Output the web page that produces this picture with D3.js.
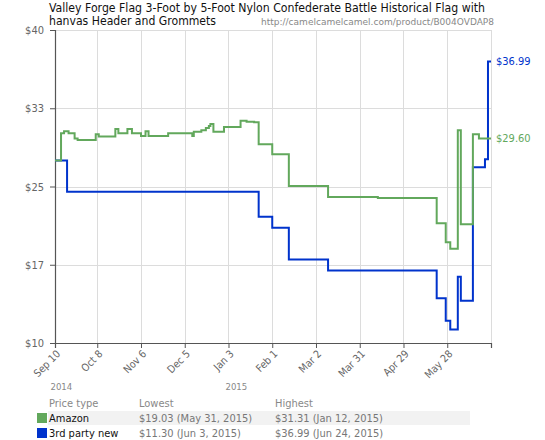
<!DOCTYPE html>
<html>
<head>
<meta charset="utf-8">
<script src="https://cdn.jsdelivr.net/npm/d3@7"></script>
<style>
  html, body { margin: 0; padding: 0; background: #fff; }
  svg { display: block; }
  text { font-family: 'DejaVu Sans Condensed', 'DejaVu Sans', sans-serif; }
</style>
</head>
<body>
<svg id="chart" width="545" height="440"></svg>
<script>
// ---------- data ----------
const titleLines = ["Valley Forge Flag 3-Foot by 5-Foot Nylon Confederate Battle Historical Flag with", "hanvas Header and Grommets"];
const sourceUrl = "http://camelcamelcamel.com/product/B004OVDAP8";

const amazonDates = ["2014-09-10","2014-09-14","2014-09-16","2014-09-19","2014-09-23","2014-09-25","2014-10-07","2014-10-09","2014-10-20","2014-10-22","2014-10-28","2014-10-31","2014-11-06","2014-11-09","2014-11-11","2014-11-24","2014-12-10","2014-12-11","2014-12-16","2014-12-19","2014-12-21","2014-12-22","2014-12-24","2014-12-31","2015-01-11","2015-01-15","2015-01-20","2015-01-23","2015-02-01","2015-02-12","2015-03-10","2015-04-12","2015-05-21","2015-05-27","2015-05-30","2015-06-04","2015-06-06","2015-06-14","2015-06-18","2015-06-26"];
const amazonPrices = [27.5,30.1,30.3,30.1,29.6,29.45,30.0,29.8,30.5,30.1,30.5,30.1,29.85,30.3,29.85,30.1,29.85,30.25,30.4,30.6,30.8,31.0,30.25,30.7,31.31,31.2,31.15,29.05,28.1,25.05,24.0,23.9,21.47,19.65,19.03,30.4,21.38,30.0,29.6,29.6];

const thirdDates = ["2014-09-10","2014-09-18","2015-01-23","2015-02-01","2015-02-12","2015-03-10","2015-05-21","2015-05-27","2015-05-30","2015-06-04","2015-06-06","2015-06-14","2015-06-22","2015-06-24","2015-06-26"];
const thirdPrices = [27.5,24.5,22.1,21.05,18.0,16.95,14.28,12.14,11.3,16.36,14.05,26.84,27.6,36.99,36.99];

const yTickValues = [10, 17.5, 25, 32.5, 40];
const yTickLabels = ["$10", "$17", "$25", "$33", "$40"];
const xTickDates = ["2014-09-10","2014-10-08","2014-11-06","2014-12-05","2015-01-03","2015-02-01","2015-03-02","2015-03-31","2015-04-29","2015-05-28"];
const xTickLabels = ["Sep 10","Oct 8","Nov 6","Dec 5","Jan 3","Feb 1","Mar 2","Mar 31","Apr 29","May 28"];
const yearLabels = ["2014", "2015"];
const yearDates = ["2014-09-07", "2015-01-01"];

const seriesNames = ["Amazon", "3rd party new"];
const seriesColors = ["#62a85c", "#0033cc"];
const lowestText = ["$19.03 (May 31, 2015)", "$11.30 (Jun 3, 2015)"];
const highestText = ["$31.31 (Jan 12, 2015)", "$36.99 (Jun 24, 2015)"];
const lastLabels = ["$29.60", "$36.99"];
const lastValues = [29.6, 36.99];
const domainDates = ["2014-09-10", "2015-06-26"];

// ---------- drawing ----------
const parse = d3.utcParse("%Y-%m-%d");
const svg = d3.select("#chart");
const L = 55, R = 491, T = 30, B = 343;

const x = d3.scaleUtc().domain(domainDates.map(parse)).range([L, R]);
const y = d3.scaleLinear().domain([10, 40]).range([B, T]);

// title
svg.append("text").attr("x", 49).attr("y", 11.5).attr("font-size", 11.5).attr("fill", "#111")
  .attr("textLength", 436).attr("lengthAdjust", "spacingAndGlyphs").text(titleLines[0]);
svg.append("text").attr("x", 49).attr("y", 24.5).attr("font-size", 11.5).attr("fill", "#111")
  .attr("textLength", 167).attr("lengthAdjust", "spacingAndGlyphs").text(titleLines[1]);
svg.append("text").attr("x", 261).attr("y", 24.5).attr("font-size", 9).attr("fill", "#888")
  .attr("textLength", 233).attr("lengthAdjust", "spacingAndGlyphs").text(sourceUrl);

// grid
const grid = svg.append("g").attr("stroke", "#dcdcdc").attr("stroke-width", 1);
yTickValues.slice(1).forEach(v => {
  grid.append("line").attr("x1", L).attr("x2", R).attr("y1", Math.round(y(v)) + 0.5).attr("y2", Math.round(y(v)) + 0.5);
});
xTickDates.slice(1).forEach(d => {
  const xx = Math.round(x(parse(d))) + 0.5;
  grid.append("line").attr("x1", xx).attr("x2", xx).attr("y1", T).attr("y2", B);
});
grid.append("line").attr("x1", R + 0.5).attr("x2", R + 0.5).attr("y1", T).attr("y2", B);

// y axis
const yAxis = d3.axisLeft(y).tickValues(yTickValues).tickSize(5).tickPadding(6)
  .tickFormat((d, i) => yTickLabels[i]);
const gy = svg.append("g").attr("transform", `translate(${L},0)`).call(yAxis);
gy.select(".domain").attr("stroke", "#555").attr("stroke-width", 1.2);
gy.selectAll(".tick line").attr("stroke", "#555");
gy.selectAll(".tick text").attr("font-size", 11).attr("fill", "#666")
  .attr("font-family", "'DejaVu Sans Condensed', 'DejaVu Sans', sans-serif");

// x axis
const xAxis = d3.axisBottom(x).tickValues(xTickDates.map(parse)).tickSize(5)
  .tickFormat((d, i) => xTickLabels[i]);
const gx = svg.append("g").attr("transform", `translate(0,${B})`).call(xAxis);
gx.select(".domain").attr("stroke", "#555").attr("stroke-width", 1.2);
gx.selectAll(".tick line").attr("stroke", "#555");
gx.selectAll(".tick text")
  .attr("font-size", 10.5).attr("fill", "#666")
  .attr("font-family", "'DejaVu Sans Condensed', 'DejaVu Sans', sans-serif")
  .attr("text-anchor", "end")
  .attr("y", 0).attr("dy", "0.35em")
  .attr("transform", "translate(3,9) rotate(-45)");

// year labels
yearLabels.forEach((t, i) => {
  svg.append("text").attr("x", x(parse(yearDates[i]))).attr("y", 390)
    .attr("font-size", 9.5).attr("fill", "#888").text(t);
});

// lines
const line = d3.line().curve(d3.curveStepAfter).x(d => x(d.date)).y(d => y(d.v));
const amazon = amazonDates.map((d, i) => ({ date: parse(d), v: amazonPrices[i] }));
const third = thirdDates.map((d, i) => ({ date: parse(d), v: thirdPrices[i] }));
svg.append("path").datum(third).attr("d", line).attr("fill", "none")
  .attr("stroke", seriesColors[1]).attr("stroke-width", 2);
svg.append("path").datum(amazon).attr("d", line).attr("fill", "none")
  .attr("stroke", seriesColors[0]).attr("stroke-width", 2);

// last-value labels
[1, 0].forEach(i => {
  svg.append("text").attr("x", 496).attr("y", y(lastValues[i])).attr("dy", "0.35em")
    .attr("font-size", 11).attr("fill", seriesColors[i]).text(lastLabels[i]);
});

// legend table
svg.append("rect").attr("x", 48).attr("y", 411).attr("width", 422).attr("height", 14).attr("fill", "#f2f2f2");
const hdr = svg.append("g").attr("font-size", 11).attr("fill", "#888");
hdr.append("text").attr("x", 49).attr("y", 407).text("Price type");
hdr.append("text").attr("x", 139).attr("y", 407).text("Lowest");
hdr.append("text").attr("x", 275).attr("y", 407).text("Highest");
seriesNames.forEach((name, i) => {
  const yy = 422 + i * 15;
  svg.append("rect").attr("x", 37).attr("y", yy - 9).attr("width", 10).attr("height", 10).attr("fill", seriesColors[i]);
  svg.append("text").attr("x", 49).attr("y", yy).attr("font-size", 11).attr("fill", "#111").text(name);
  svg.append("text").attr("x", 139).attr("y", yy).attr("font-size", 11).attr("fill", "#777").text(lowestText[i]);
  svg.append("text").attr("x", 275).attr("y", yy).attr("font-size", 11).attr("fill", "#777").text(highestText[i]);
});
</script>
</body>
</html>
